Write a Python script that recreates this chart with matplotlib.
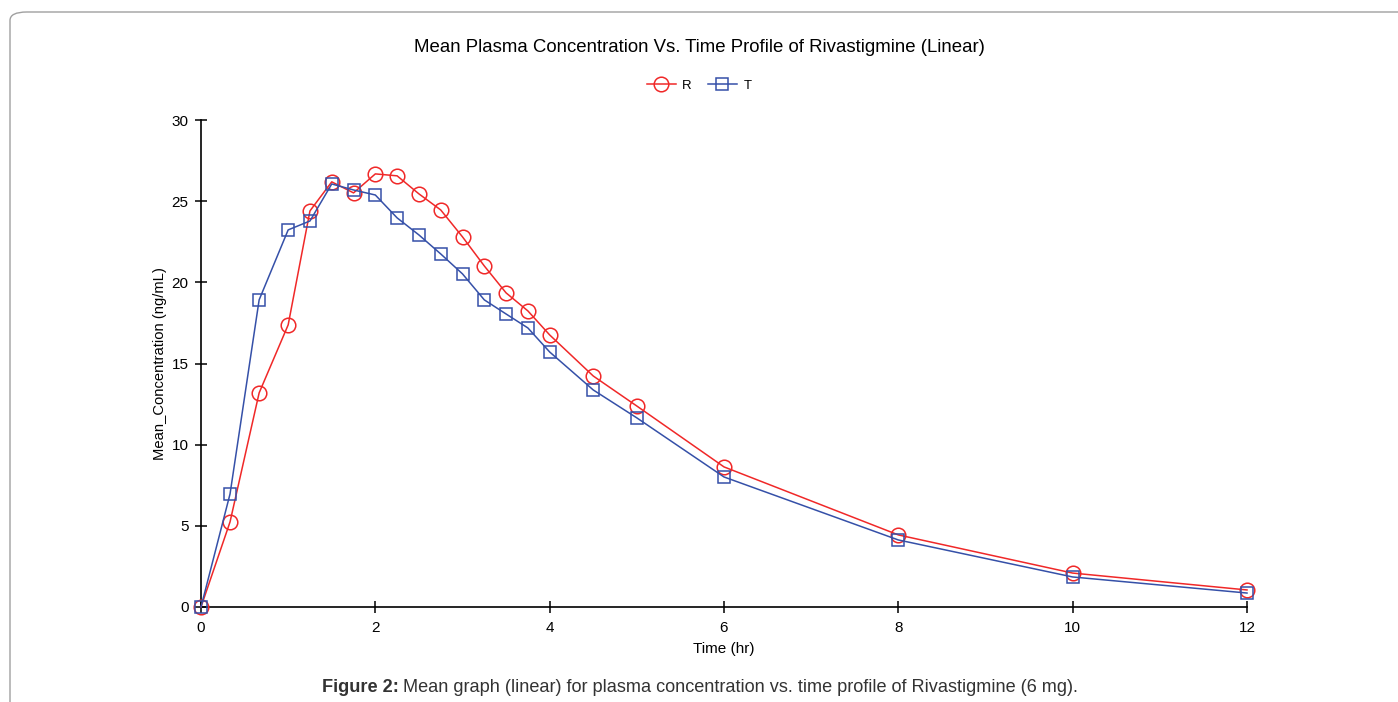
import matplotlib.pyplot as plt
from matplotlib.patches import FancyBboxPatch

plt.rcParams['font.family'] = ['Liberation Sans', 'DejaVu Sans']

# sampling times (hr)
time_hr = [0, 0.333, 0.667, 1, 1.25, 1.5, 1.75, 2, 2.25, 2.5, 2.75, 3,
           3.25, 3.5, 3.75, 4, 4.5, 5, 6, 8, 10, 12]
# mean concentration, reference (R) and test (T)
conc_R = [0, 5.24, 13.19, 17.38, 24.4, 26.19, 25.51, 26.68, 26.56, 25.45, 24.46,
          22.80, 21.01, 19.35, 18.24, 16.76, 14.23, 12.38, 8.63, 4.44, 2.09, 1.05]
conc_T = [0, 6.96, 18.92, 23.23, 23.78, 26.06, 25.69, 25.38, 23.97, 22.92, 21.75,
          20.52, 18.92, 18.05, 17.19, 15.71, 13.37, 11.65, 8.01, 4.13, 1.85, 0.86]

x_ticks = [0, 2, 4, 6, 8, 10, 12]
y_ticks = [0, 5, 10, 15, 20, 25, 30]

fig = plt.figure(figsize=(13.98, 7.02), dpi=100)

# rounded grey frame around the figure
frame = FancyBboxPatch((10 / 1398, -0.05), 1.2, 1.05 - 12 / 702,
                       boxstyle="round,pad=0,rounding_size=0.012",
                       transform=fig.transFigure, fill=False,
                       edgecolor='#a0a0a0', linewidth=1.0)
fig.patches.append(frame)

ax = fig.add_axes([201 / 1398, 1 - 607 / 702, (1247 - 201) / 1398, (607 - 120) / 702])

red = '#f02828'
blue = '#3550a8'
ax.plot(time_hr, conc_R, color=red, lw=1.1, marker='o', ms=10.5, mfc='none',
        mec=red, mew=1.1, label='R', clip_on=False, zorder=3)
ax.plot(time_hr, conc_T, color=blue, lw=1.1, marker='s', ms=8.5, mfc='none',
        mec=blue, mew=1.1, label='T', clip_on=False, zorder=3)

ax.set_xlim(0, 12)
ax.set_ylim(0, 30)
ax.set_xticks(x_ticks)
ax.set_yticks(y_ticks)
for s in ['top', 'right']:
    ax.spines[s].set_visible(False)
for s in ['left', 'bottom']:
    ax.spines[s].set_linewidth(1.2)
ax.tick_params(direction='inout', length=8, width=1.1, labelsize=11)
ax.tick_params(axis='y', pad=5)
ax.tick_params(axis='x', pad=6)

ax.set_xlabel('Time (hr)', fontsize=11, labelpad=5)
ax.set_ylabel('Mean_Concentration (ng/mL)', fontsize=10.6, labelpad=3)

fig.text(0.5, 1 - 47 / 702, 'Mean Plasma Concentration Vs. Time Profile of Rivastigmine (Linear)',
         ha='center', va='center', fontsize=13.4)
fig.legend(loc='center', bbox_to_anchor=(0.5, 1 - 86 / 702), ncol=2, frameon=False,
           fontsize=9.5, handlelength=2.2, columnspacing=1.2, handletextpad=0.5)

# caption: bold prefix + normal text
cap_y = 1 - 687 / 702
t1 = fig.text(0.5, cap_y, 'Figure 2:', ha='left', va='center', fontsize=13.1,
              fontweight='bold', color='#333333')
t2 = fig.text(0.5, cap_y, ' Mean graph (linear) for plasma concentration vs. time profile of Rivastigmine (6 mg).',
              ha='left', va='center', fontsize=13.1, color='#333333')
fig.canvas.draw()
r = fig.canvas.get_renderer()
w1 = t1.get_window_extent(r).width
w2 = t2.get_window_extent(r).width
x0 = 700 - (w1 + w2) / 2
t1.set_x(x0 / 1398)
t2.set_x((x0 + w1) / 1398)

fig.savefig('out.png', dpi=100)
